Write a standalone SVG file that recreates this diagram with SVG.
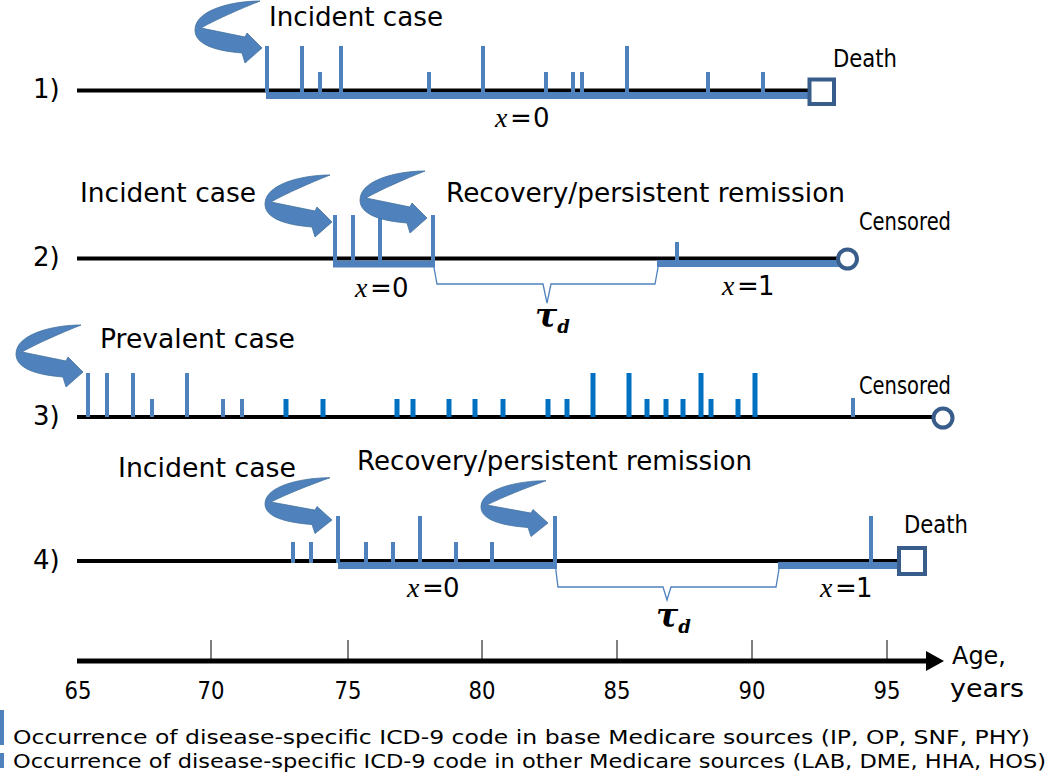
<svg xmlns="http://www.w3.org/2000/svg" xmlns:xlink="http://www.w3.org/1999/xlink" width="1050" height="772" viewBox="0 0 1050 772">
<style>
.lbl{font-family:"DejaVu Sans","Liberation Sans",sans-serif;fill:#000}
.line{stroke:#000;stroke-width:4;fill:none}
.bar{stroke:#4f81bd;stroke-width:7;fill:none}
.tick{stroke:#4f81bd;stroke-width:4;fill:none}
.vtick{stroke:#0070c0;stroke-width:5;fill:none}
.brace{stroke:#4f81bd;stroke-width:1.3;fill:none}
.end{stroke:#385d8a;stroke-width:4;fill:#fff}
.curl{fill:#4f81bd;stroke:#41719c;stroke-width:0.8}
.xi{font-family:"Liberation Serif",serif;font-style:italic}
.tau{font-family:"DejaVu Serif","Liberation Serif",serif;font-style:italic;font-weight:bold}
</style>
<defs>
<path id="curl" d="M-2,-47 C-30,-47 -67,-38 -67,-18 C-67,-3 -45,3 -20,5 L-17,15 L0,0 L-15,-15 L-17,-11 L-61,-20 C-45,-29 -22,-39 -2,-47 Z"/>
</defs>

<g id="row1">
<path class="line" d="M77,90.5 H812"/>
<path class="bar" d="M266,95.5 H812"/>
<path class="tick" d="M267,46V92M302,46V92M341,46V92M483,46V92M627,46V92M320,72V92M429,72V92M546,72V92M573,72V92M582,72V92M708,72V92M763,72V92"/>
<rect class="end" x="809.5" y="79.5" width="24.5" height="24.5"/>
<use xlink:href="#curl" class="curl" transform="translate(262,48)"/>
<text class="lbl" x="33" y="98" font-size="26">1)</text>
<text class="lbl" x="269" y="26" font-size="26" textLength="174" lengthAdjust="spacingAndGlyphs">Incident case</text>
<text class="lbl" x="833" y="67" font-size="25" textLength="64" lengthAdjust="spacingAndGlyphs">Death</text>
<text class="lbl" y="127" font-size="26"><tspan class="xi" x="495" font-size="28">x</tspan><tspan x="510">=</tspan><tspan x="533">0</tspan></text>
</g>

<g id="row2">
<path class="line" d="M77,258.5 H840"/>
<path class="bar" d="M333,264 H435 M657,263.5 H840"/>
<path class="tick" d="M335,215V261M353,215V261M380,215V261M433,215V261M677,242V261"/>
<path class="brace" d="M433,262 L437,284 H543 L547,303 L551,284 H655 L659,262"/>
<circle class="end" cx="847.5" cy="259" r="9.5" stroke-width="3"/>
<use xlink:href="#curl" class="curl" transform="translate(332,222)"/>
<use xlink:href="#curl" class="curl" transform="translate(427,218)"/>
<text class="lbl" x="33" y="266" font-size="26">2)</text>
<text class="lbl" x="80" y="202" font-size="26" textLength="176" lengthAdjust="spacingAndGlyphs">Incident case</text>
<text class="lbl" x="446" y="202" font-size="26" textLength="399" lengthAdjust="spacingAndGlyphs">Recovery/persistent remission</text>
<text class="lbl" x="859" y="230" font-size="25" textLength="92" lengthAdjust="spacingAndGlyphs">Censored</text>
<text class="lbl" y="297" font-size="26"><tspan class="xi" x="355" font-size="28">x</tspan><tspan x="370">=</tspan><tspan x="392">0</tspan></text>
<text class="lbl" y="295" font-size="26"><tspan class="xi" x="722" font-size="28">x</tspan><tspan x="737">=</tspan><tspan x="758">1</tspan></text>
<text class="tau" x="535" y="327" font-size="33">τ<tspan font-size="18" dy="6">d</tspan></text>
</g>

<g id="row3">
<path class="line" d="M77,417 H934"/>
<path class="tick" d="M88,373V417M107,373V417M133,373V417M187,373V417M152,399V417M223,399V417M242,399V417M853,398V417"/>
<path class="vtick" d="M593,373V417M629,373V417M701,373V417M755,373V417M286,399V417M323,399V417M397,399V417M413,399V417M449,399V417M475,399V417M503,399V417M548,399V417M567,399V417M647,399V417M666,399V417M683,399V417M711,399V417M738,399V417"/>
<circle class="end" cx="943" cy="418" r="9.5" stroke-width="3"/>
<use xlink:href="#curl" class="curl" transform="translate(83,372)"/>
<text class="lbl" x="33" y="425" font-size="26">3)</text>
<text class="lbl" x="100" y="348" font-size="26" textLength="195" lengthAdjust="spacingAndGlyphs">Prevalent case</text>
<text class="lbl" x="859" y="394" font-size="25" textLength="92" lengthAdjust="spacingAndGlyphs">Censored</text>
</g>

<g id="row4">
<path class="line" d="M77,561 H900"/>
<path class="bar" d="M338,565.5 H557 M778,565.5 H900"/>
<path class="tick" d="M338,516V563M420,516V563M555,516V563M871,516V563M293,542V563M311,542V563M366,542V563M393,542V563M456,542V563M492,542V563"/>
<path class="brace" d="M555,563 L558,587 H663 L667,600 L671,587 H776 L780,563"/>
<rect class="end" x="899" y="548" width="26" height="26"/>
<use xlink:href="#curl" class="curl" transform="translate(332,520) scale(1,0.9)"/>
<use xlink:href="#curl" class="curl" transform="translate(548,523) scale(1,0.9)"/>
<text class="lbl" x="33" y="569" font-size="26">4)</text>
<text class="lbl" x="118" y="477" font-size="26" textLength="178" lengthAdjust="spacingAndGlyphs">Incident case</text>
<text class="lbl" x="357" y="470" font-size="26" textLength="395" lengthAdjust="spacingAndGlyphs">Recovery/persistent remission</text>
<text class="lbl" x="904" y="533" font-size="25" textLength="64" lengthAdjust="spacingAndGlyphs">Death</text>
<text class="lbl" y="597" font-size="26"><tspan class="xi" x="407" font-size="28">x</tspan><tspan x="422">=</tspan><tspan x="443">0</tspan></text>
<text class="lbl" y="597" font-size="26"><tspan class="xi" x="820" font-size="28">x</tspan><tspan x="835">=</tspan><tspan x="856">1</tspan></text>
<text class="tau" x="656" y="627" font-size="33">τ<tspan font-size="18" dy="6">d</tspan></text>
</g>

<g id="axis">
<path d="M77,661 H930" stroke="#000" stroke-width="5"/>
<polygon points="926,651 944,661 926,671" fill="#000"/>
<path d="M211,640V661M348,640V661M482,640V661M617,640V661M752,640V661M887,640V661" stroke="#000" stroke-width="1"/>
<g class="lbl" font-size="25" text-anchor="middle">
<text x="78" y="699" textLength="27" lengthAdjust="spacingAndGlyphs">65</text>
<text x="211" y="699" textLength="27" lengthAdjust="spacingAndGlyphs">70</text>
<text x="348" y="699" textLength="27" lengthAdjust="spacingAndGlyphs">75</text>
<text x="482" y="699" textLength="27" lengthAdjust="spacingAndGlyphs">80</text>
<text x="617" y="699" textLength="27" lengthAdjust="spacingAndGlyphs">85</text>
<text x="752" y="699" textLength="27" lengthAdjust="spacingAndGlyphs">90</text>
<text x="887" y="699" textLength="27" lengthAdjust="spacingAndGlyphs">95</text>
</g>
<text class="lbl" x="952" y="664" font-size="25" textLength="54" lengthAdjust="spacingAndGlyphs">Age,</text>
<text class="lbl" x="950" y="697" font-size="25" textLength="74" lengthAdjust="spacingAndGlyphs">years</text>
</g>

<g id="legend">
<rect x="0" y="710" width="4" height="35" fill="#4f81bd"/>
<rect x="0" y="753" width="4" height="15" fill="#4f81bd"/>
<text class="lbl" x="13" y="744" font-size="20" textLength="1017" lengthAdjust="spacingAndGlyphs">Occurrence of disease-specific ICD-9 code in base Medicare sources (IP, OP, SNF, PHY)</text>
<text class="lbl" x="13" y="768" font-size="20" textLength="1033" lengthAdjust="spacingAndGlyphs">Occurrence of disease-specific ICD-9 code in other Medicare sources (LAB, DME, HHA, HOS)</text>
</g>
</svg>
